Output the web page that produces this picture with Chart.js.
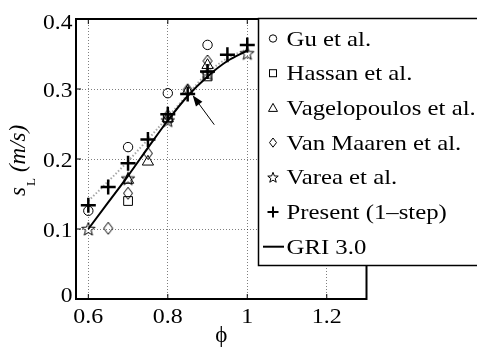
<!DOCTYPE html>
<html>
<head>
<meta charset="utf-8">
<script src="https://cdn.jsdelivr.net/npm/chart.js@4/dist/chart.umd.min.js"></script>
<style>
  html, body { margin: 0; padding: 0; background: #fff; }
</style>
</head>
<body>
<canvas id="myChart" width="477" height="347"></canvas>
<script>
// dados (phi = razao de equivalencia, s = velocidade de chama m/s)
const phiGu = [0.6, 0.7, 0.8, 0.9];
const sGu = [0.126, 0.217, 0.294, 0.363];

const phiHassan = [0.7, 0.8, 0.9];
const sHassan = [0.140, 0.258, 0.318];

const phiVagel = [0.7, 0.75, 0.8, 0.85, 0.9];
const sVagel = [0.170, 0.196, 0.258, 0.297, 0.334];

const phiMaaren = [0.65, 0.7, 0.75, 0.8, 0.85, 0.9];
const sMaaren = [0.101, 0.151, 0.208, 0.262, 0.299, 0.340];

const phiVarea = [0.6, 0.7, 0.8, 0.9, 1.0];
const sVarea = [0.100, 0.172, 0.255, 0.322, 0.351];

const phiPresent = [0.6, 0.65, 0.7, 0.75, 0.8, 0.85, 0.9, 0.95, 1.0];
const sPresent = [0.134, 0.160, 0.194, 0.228, 0.264, 0.293, 0.325, 0.349, 0.363];

// linha pontilhada cinza (sem entrada na legenda)
const phiDotted = [0.6, 0.65, 0.7, 0.75, 0.8, 0.85, 0.9, 0.95, 1.0];
const sDotted = [0.140, 0.168, 0.197, 0.228, 0.260, 0.292, 0.323, 0.344, 0.357];

const phiGri = [0.6, 0.65, 0.7, 0.75, 0.8, 0.85, 0.9, 0.95, 1.0];
const sGri = [0.100, 0.138, 0.176, 0.216, 0.255, 0.290, 0.318, 0.340, 0.355];

const xTicks = [0.6, 0.8, 1, 1.2];
const yTicks = [0, 0.1, 0.2, 0.3, 0.4];

// seta (em unidades dos eixos)
const arrowTip = { x: 0.8625, y: 0.291 };
const arrowTail = { x: 0.917, y: 0.249 };

const serif = '"Liberation Serif", "Times New Roman", serif';

const pts = (xs, ys) => xs.map((x, i) => ({ x: x, y: ys[i] }));

// marcadores desenhados a mao (estrela de 5 pontas e losango)
function starPath(ctx, cx, cy, R) {
  const r = R * 0.42;
  ctx.beginPath();
  for (let i = 0; i < 10; i++) {
    const a = -Math.PI / 2 + i * Math.PI / 5;
    const rr = i % 2 === 0 ? R : r;
    const px = cx + rr * Math.cos(a), py = cy + rr * Math.sin(a);
    if (i === 0) ctx.moveTo(px, py); else ctx.lineTo(px, py);
  }
  ctx.closePath();
}
function diamondPath(ctx, cx, cy, hw, hh) {
  ctx.beginPath();
  ctx.moveTo(cx, cy - hh);
  ctx.lineTo(cx + hw, cy);
  ctx.lineTo(cx, cy + hh);
  ctx.lineTo(cx - hw, cy);
  ctx.closePath();
}
function makeImg(w, h, draw) {
  const c = document.createElement('canvas');
  c.width = w; c.height = h;
  const g = c.getContext('2d');
  g.strokeStyle = '#000'; g.lineWidth = 1;
  draw(g, w / 2, h / 2);
  return c;
}
const starImg = makeImg(16, 16, (g, cx, cy) => { starPath(g, cx, cy + 0.5, 7); g.stroke(); });
const diamondImg = makeImg(12, 14, (g, cx, cy) => { diamondPath(g, cx, cy, 4.5, 6); g.stroke(); });

const markerBase = { showLine: false, backgroundColor: 'rgba(0,0,0,0)', borderColor: '#000', borderWidth: 1 };

const datasets = [
  Object.assign({ label: 'Gu et al.', kind: 'circle', data: pts(phiGu, sGu), pointStyle: 'circle', pointRadius: 4.7 }, markerBase),
  Object.assign({ label: 'Hassan et al.', kind: 'rect', data: pts(phiHassan, sHassan), pointStyle: 'rect', pointRadius: 6.2 }, markerBase),
  Object.assign({ label: 'Vagelopoulos et al.', kind: 'triangle', data: pts(phiVagel, sVagel), pointStyle: 'triangle', pointRadius: 6.5 }, markerBase),
  Object.assign({ label: 'Van Maaren et al.', kind: 'diamond', data: pts(phiMaaren, sMaaren), pointStyle: diamondImg, pointRadius: 6 }, markerBase),
  Object.assign({ label: 'Varea et al.', kind: 'star', data: pts(phiVarea, sVarea), pointStyle: starImg, pointRadius: 7 }, markerBase),
  Object.assign({ label: 'Present (1\u2013step)', kind: 'cross', data: pts(phiPresent, sPresent), pointStyle: 'cross', pointRadius: 7.5 }, markerBase, { borderWidth: 2.5 }),
  {
    label: 'GRI 3.0', kind: 'line', data: pts(phiGri, sGri), showLine: true,
    borderColor: '#000', borderWidth: 2, pointRadius: 0, cubicInterpolationMode: 'monotone', fill: false
  },
  {
    data: pts(phiDotted, sDotted), showLine: true,
    borderColor: '#a8a8a8', borderWidth: 2, borderDash: [1.5, 2], pointRadius: 0,
    cubicInterpolationMode: 'monotone', fill: false
  }
];

// texto esticado na horizontal (a fonte da figura original e mais larga)
function drawWide(ctx, text, x, y, align, sx) {
  ctx.save();
  ctx.translate(x, y);
  ctx.scale(sx, 1);
  ctx.textAlign = align;
  ctx.fillText(text, 0, 0);
  ctx.restore();
}
const fmt = (v) => String(Math.round(v * 100) / 100);

// moldura, marcas internas, rotulos dos ticks e seta
const framePlugin = {
  id: 'frame',
  afterDatasetsDraw(chart) {
    const { ctx, chartArea: a, scales } = chart;
    ctx.save();
    // seta
    const x1 = scales.x.getPixelForValue(arrowTail.x), y1 = scales.y.getPixelForValue(arrowTail.y);
    const x2 = scales.x.getPixelForValue(arrowTip.x), y2 = scales.y.getPixelForValue(arrowTip.y);
    const ang = Math.atan2(y2 - y1, x2 - x1);
    ctx.strokeStyle = '#000'; ctx.fillStyle = '#000'; ctx.lineWidth = 1;
    ctx.beginPath(); ctx.moveTo(x1, y1); ctx.lineTo(x2 - 8 * Math.cos(ang), y2 - 8 * Math.sin(ang)); ctx.stroke();
    ctx.beginPath();
    ctx.moveTo(x2, y2);
    ctx.lineTo(x2 - 11 * Math.cos(ang) + 4 * Math.sin(ang), y2 - 11 * Math.sin(ang) - 4 * Math.cos(ang));
    ctx.lineTo(x2 - 11 * Math.cos(ang) - 4 * Math.sin(ang), y2 - 11 * Math.sin(ang) + 4 * Math.cos(ang));
    ctx.closePath(); ctx.fill();
    // marcas dos ticks para dentro
    ctx.beginPath();
    scales.x.ticks.forEach(t => {
      const px = scales.x.getPixelForValue(t.value);
      ctx.moveTo(px, a.bottom); ctx.lineTo(px, a.bottom - 5);
      ctx.moveTo(px, a.top); ctx.lineTo(px, a.top + 5);
    });
    scales.y.ticks.forEach(t => {
      const py = scales.y.getPixelForValue(t.value);
      ctx.moveTo(a.left, py); ctx.lineTo(a.left + 5, py);
      ctx.moveTo(a.right, py); ctx.lineTo(a.right - 5, py);
    });
    ctx.stroke();
    // moldura
    ctx.lineWidth = 2;
    ctx.strokeRect(a.left, a.top, a.right - a.left, a.bottom - a.top);
    // rotulos dos ticks
    ctx.font = '21px ' + serif;
    ctx.textBaseline = 'alphabetic';
    scales.x.ticks.forEach(t => {
      drawWide(ctx, fmt(t.value), scales.x.getPixelForValue(t.value), a.bottom + 24, 'center', 1.14);
    });
    scales.y.ticks.forEach(t => {
      const py = Math.min(Math.max(scales.y.getPixelForValue(t.value), a.top + 2), a.bottom - 5);
      drawWide(ctx, fmt(t.value), 72.5, py + 7.5, 'right', 1.12);
    });
    ctx.restore();
  }
};

// legenda em caixa sobreposta ao grafico
function drawSymbol(ctx, kind, x, y) {
  ctx.beginPath();
  ctx.lineWidth = 1;
  if (kind === 'circle') { ctx.arc(x, y, 3.7, 0, Math.PI * 2); ctx.stroke(); }
  else if (kind === 'rect') { ctx.strokeRect(x - 3.5, y - 3.5, 7, 7); }
  else if (kind === 'triangle') {
    ctx.moveTo(x, y - 4.5); ctx.lineTo(x + 4.5, y + 3.5); ctx.lineTo(x - 4.5, y + 3.5); ctx.closePath(); ctx.stroke();
  }
  else if (kind === 'diamond') { diamondPath(ctx, x, y, 3.5, 4.6); ctx.stroke(); }
  else if (kind === 'star') { starPath(ctx, x, y + 0.5, 5.5); ctx.stroke(); }
  else if (kind === 'cross') {
    ctx.lineWidth = 2;
    ctx.moveTo(x - 5.5, y); ctx.lineTo(x + 5.5, y); ctx.moveTo(x, y - 5.5); ctx.lineTo(x, y + 5.5); ctx.stroke();
  }
  else if (kind === 'line') {
    ctx.lineWidth = 2;
    ctx.moveTo(x - 10, y); ctx.lineTo(x + 11, y); ctx.stroke();
  }
}
const legendPlugin = {
  id: 'boxLegend',
  afterDraw(chart) {
    const ctx = chart.ctx;
    const items = chart.data.datasets.filter(d => d.label);
    ctx.save();
    ctx.fillStyle = '#fff'; ctx.strokeStyle = '#000'; ctx.lineWidth = 1.5;
    ctx.fillRect(258.5, 18.5, 230, 247);
    ctx.strokeRect(258.5, 18.5, 230, 247);
    ctx.font = '21px ' + serif;
    ctx.textBaseline = 'alphabetic';
    items.forEach((d, i) => {
      const cy = 38.5 + i * 34.7;
      ctx.strokeStyle = '#000'; ctx.fillStyle = '#000';
      drawSymbol(ctx, d.kind, 273, cy);
      drawWide(ctx, d.label, 286.5, cy + 7, 'left', 1.18);
    });
    ctx.restore();
  }
};

// rotulo do eixo y com subscrito
const yTitlePlugin = {
  id: 'yTitle',
  afterDraw(chart) {
    const ctx = chart.ctx;
    ctx.save();
    ctx.translate(25, 196);
    ctx.rotate(-Math.PI / 2);
    ctx.fillStyle = '#000';
    ctx.textBaseline = 'alphabetic';
    ctx.font = 'italic 23px ' + serif;
    ctx.fillText('s', 0, 0);
    const ws = ctx.measureText('s').width;
    ctx.font = '13px ' + serif;
    ctx.fillText('L', ws + 1, 10);
    const wl = ctx.measureText('L').width;
    ctx.font = 'italic 23px ' + serif;
    ctx.fillText('(m/s)', ws + wl + 7, 0);
    ctx.restore();
  }
};

const config = {
  type: 'scatter',
  data: { datasets: datasets },
  options: {
    responsive: false,
    animation: false,
    layout: { padding: { left: 0, top: 19, right: 110.5, bottom: 0 } },
    plugins: { legend: { display: false }, tooltip: { enabled: false } },
    scales: {
      x: {
        type: 'linear', min: 0.569, max: 1.3,
        afterBuildTicks: (s) => { s.ticks = xTicks.map(v => ({ value: v })); },
        afterFit: (s) => { s.height = 48; },
        grid: { color: 'rgba(0,0,0,0.5)', lineWidth: 1, drawTicks: false },
        border: { display: false, dash: [1, 2] },
        ticks: { display: false },
        title: { display: true, text: '\u03D5', color: '#000', font: { family: serif, size: 23 }, padding: { top: 0, bottom: -3 } }
      },
      y: {
        type: 'linear', min: 0, max: 0.4,
        afterBuildTicks: (s) => { s.ticks = yTicks.map(v => ({ value: v })); },
        afterFit: (s) => { s.width = 76; },
        grid: { color: 'rgba(0,0,0,0.5)', lineWidth: 1, drawTicks: false },
        border: { display: false, dash: [1, 2] },
        ticks: { display: false }
      }
    }
  },
  plugins: [framePlugin, legendPlugin, yTitlePlugin]
};

const myChart = new Chart(document.getElementById('myChart'), config);
</script>
</body>
</html>
